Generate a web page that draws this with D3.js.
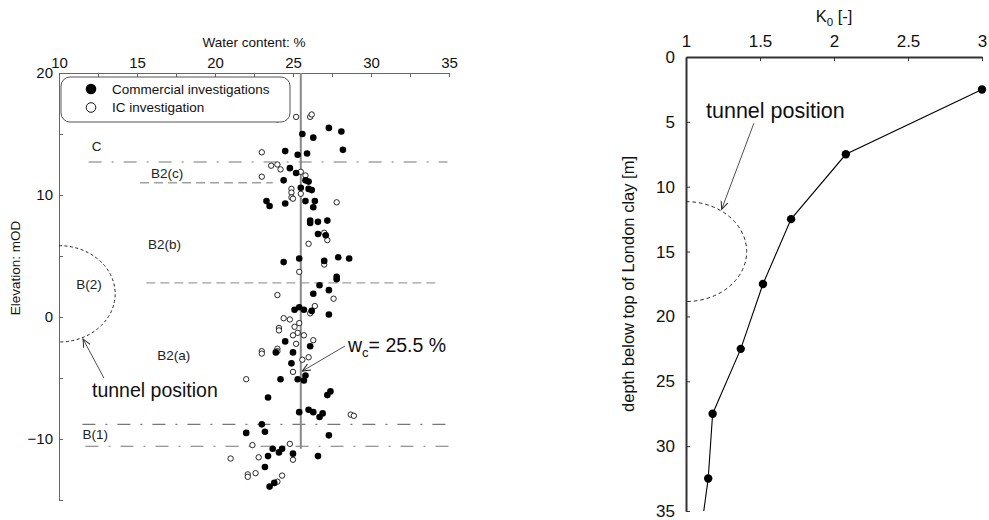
<!DOCTYPE html>
<html>
<head>
<meta charset="utf-8">
<script src="https://cdn.jsdelivr.net/npm/d3@7"></script>
<style>
  body { margin: 0; background: #fff; }
  svg { font-family: "Liberation Sans", Arial, sans-serif; }
</style>
</head>
<body>
<div id="chart"></div>
<script>
// ---- data ----
// [water content %, elevation mOD]
const commercialPts = [
    [27.3, 15.5], [28.1, 15.2], [25.6, 15.0], [26.3, 14.7], [24.5, 13.6], [25.3, 13.3],
    [25.9, 13.4], [28.2, 13.7], [24.8, 12.2], [25.2, 11.8], [24.4, 11.2], [25.8, 11.2],
    [26.0, 11.1], [25.5, 10.6], [26.0, 10.5], [26.2, 10.4], [23.3, 9.5], [23.5, 9.1],
    [24.5, 9.3], [25.8, 9.5], [26.4, 9.5], [26.3, 9.0], [26.1, 7.9], [26.1, 7.7],
    [26.6, 7.8], [27.2, 7.9], [26.6, 6.8], [27.1, 6.7], [24.4, 4.5], [25.4, 4.8],
    [27.0, 4.6], [27.9, 4.9], [28.6, 4.8], [27.8, 3.3], [27.8, 3.1], [26.3, 1.9],
    [26.7, 2.6], [27.3, 2.2], [25.1, 0.6], [25.4, 0.8], [25.7, 0.6], [26.2, 0.5],
    [27.3, 0.2], [24.5, -2.0], [26.1, -2.4], [23.9, -2.9], [25.0, -2.9], [24.9, -3.8],
    [24.2, -5.1], [25.3, -5.1], [25.8, -4.8], [25.7, -5.2], [23.4, -6.6], [27.2, -6.4],
    [27.4, -6.1], [25.4, -7.8], [26.0, -7.6], [26.3, -7.8], [26.7, -8.2], [26.9, -7.9],
    [23.0, -8.8], [22.0, -9.5], [23.2, -9.4], [27.3, -9.7], [23.7, -10.8], [24.3, -10.8],
    [24.1, -11.1], [25.0, -11.2], [26.6, -11.4], [23.4, -11.4], [23.2, -12.3], [23.8, -13.6],
    [23.5, -13.9]
];
const icPts = [
    [24.0, 16.2], [25.2, 16.4], [26.1, 16.4], [26.2, 16.6], [23.0, 13.5], [23.6, 12.4],
    [24.0, 12.5], [24.2, 12.1], [25.5, 11.9], [25.8, 11.6], [23.0, 11.5], [24.9, 10.5],
    [24.9, 10.2], [25.5, 10.1], [24.9, 9.8], [25.0, 9.7], [27.8, 9.4], [27.0, 6.9],
    [27.2, 6.3], [26.0, 6.0], [27.0, 4.3], [25.4, 3.7], [24.0, 1.8], [27.6, 1.5],
    [26.4, 0.9], [26.1, 0.3], [24.4, -0.1], [24.8, -0.2], [25.4, -0.5], [25.1, -0.8],
    [25.3, -1.3], [24.1, -0.9], [24.1, -1.1], [25.0, -1.5], [25.7, -1.5], [26.3, -1.9],
    [25.2, -2.2], [24.0, -2.6], [24.0, -2.8], [23.0, -2.8], [23.0, -3.0], [26.0, -3.3],
    [25.6, -3.5], [25.0, -4.5], [22.0, -5.1], [28.7, -8.0], [28.9, -8.1], [22.4, -10.5],
    [24.8, -10.4], [21.0, -11.6], [22.8, -11.5], [25.0, -11.7], [22.1, -12.9], [22.1, -13.1],
    [22.6, -12.8], [24.3, -13.0], [24.0, -13.5]
];
const meanWc = 25.5;
// layer boundaries: elevation, water content from/to
const boundaryElev = [12.7, 11.0, 2.8, -8.8, -10.6];
const boundaryFrom = [11.9, 15.2, 15.6, 11.5, 11.7];
const boundaryTo = [34.9, 23.7, 34.2, 34.9, 35.0];
const boundaryKind = ["dashdot", "dash", "dash", "dashdot", "dashdot"];
const layerNames = ["C", "B2(c)", "B2(b)", "B(2)", "B2(a)", "B(1)"];
const layerLabelW = [12.1, 15.9, 15.7, 11.1, 16.3, 11.5];
const layerLabelE = [13.6, 11.4, 5.6, 2.3, -3.5, -10.0];
// tunnel outline (left): centre elevation, half height (m), half width (% units)
const tunnelLeft = { elev: 1.9, ry: 3.95, rx: 3.6 };

// K0 profile
const k0Depth = [2.5, 7.5, 12.5, 17.5, 22.5, 27.5, 32.5];
const k0Value = [3.0, 2.08, 1.71, 1.52, 1.37, 1.18, 1.15];
const k0LineEnd = [1.12, 35];
const tunnelRight = { depth: 15.0, ry: 3.85, rx: 0.41 };

const wTicks = d3.range(10, 35.01, 2.5);
const eTicks = d3.range(-15, 20.01, 5);
const kTicks = [1, 1.5, 2, 2.5, 3];
const dTicks = d3.range(0, 35.01, 5);

// ---- drawing ----
const width = 989;
const height = 520;

const svg = d3.select("#chart").append("svg")
    .attr("width", width)
    .attr("height", height);

const defs = svg.append("defs");
defs.append("marker")
    .attr("id", "arrow")
    .attr("viewBox", "0 0 10 10")
    .attr("refX", 9)
    .attr("refY", 5)
    .attr("markerWidth", 9)
    .attr("markerHeight", 9)
    .attr("markerUnits", "userSpaceOnUse")
    .attr("orient", "auto")
    .append("path")
    .attr("d", "M0,1 L9,5 L0,9")
    .attr("fill", "none")
    .attr("stroke", "#222")
    .attr("stroke-width", 1.1);

// ===== left panel =====
const x = d3.scaleLinear().domain([10, 35]).range([59, 449]);
const y = d3.scaleLinear().domain([-15, 20]).range([500, 73]);

const left = svg.append("g");

const xAxisG = left.append("g")
    .attr("transform", `translate(0,${y(20)})`)
    .call(d3.axisTop(x).tickValues(wTicks).tickSizeInner(-4).tickSizeOuter(0).tickPadding(5)
        .tickFormat((d) => (d % 5 === 0 ? d : "")));
const yAxisG = left.append("g")
    .attr("transform", `translate(${x(10)},0)`)
    .call(d3.axisLeft(y).tickValues(eTicks).tickSizeInner(-4).tickSizeOuter(0).tickPadding(6)
        .tickFormat((d) => (d % 10 === 0 ? d3.format("d")(d) : "")));

[xAxisG, yAxisG].forEach((g) => {
    g.selectAll("path, line").attr("stroke", "#666");
    g.selectAll("text").attr("font-size", 15).attr("fill", "#111")
        .attr("font-family", "Liberation Sans, Arial, sans-serif");
});

left.append("text")
    .attr("x", (x(10) + x(35)) / 2)
    .attr("y", 47)
    .attr("text-anchor", "middle")
    .attr("font-size", 13.5)
    .attr("fill", "#111")
    .text("Water content: %");

left.append("text")
    .attr("transform", "rotate(-90)")
    .attr("x", -268)
    .attr("y", 20)
    .attr("text-anchor", "middle")
    .attr("font-size", 13.5)
    .attr("fill", "#111")
    .text("Elevation: mOD");

// layer boundaries
left.append("g").selectAll("line")
    .data(boundaryElev)
    .join("line")
    .attr("x1", (d, i) => x(boundaryFrom[i]))
    .attr("x2", (d, i) => x(boundaryTo[i]))
    .attr("y1", (d) => y(d))
    .attr("y2", (d) => y(d))
    .attr("stroke", (d, i) => (boundaryKind[i] === "dash" ? "#a0a0a0" : "#777"))
    .attr("stroke-width", (d, i) => (boundaryKind[i] === "dash" ? 1.4 : 1.1))
    .attr("stroke-dasharray", (d, i) => (boundaryKind[i] === "dash" ? "9,5" : "13,10,2,10"));

left.append("g").selectAll("text")
    .data(layerNames)
    .join("text")
    .attr("x", (d, i) => x(layerLabelW[i]))
    .attr("y", (d, i) => y(layerLabelE[i]))
    .attr("font-size", 13.5)
    .attr("fill", "#222")
    .text((d) => d);

// tunnel outline
const tTop = y(tunnelLeft.elev + tunnelLeft.ry);
const tBot = y(tunnelLeft.elev - tunnelLeft.ry);
const tRx = x(10 + tunnelLeft.rx) - x(10);
left.append("path")
    .attr("d", `M${x(10)},${tTop} A${tRx},${(tBot - tTop) / 2} 0 0 1 ${x(10)},${tBot}`)
    .attr("fill", "none")
    .attr("stroke", "#222")
    .attr("stroke-width", 1)
    .attr("stroke-dasharray", "3,2.5");

// mean water content line
left.append("line")
    .attr("x1", x(meanWc))
    .attr("x2", x(meanWc))
    .attr("y1", y(20))
    .attr("y2", y(-10.8))
    .attr("stroke", "#888")
    .attr("stroke-width", 2);

// points
left.append("g").selectAll("circle")
    .data(icPts)
    .join("circle")
    .attr("cx", (d) => x(d[0]))
    .attr("cy", (d) => y(d[1]))
    .attr("r", 2.7)
    .attr("fill", "#fff")
    .attr("stroke", "#111")
    .attr("stroke-width", 0.9);

left.append("g").selectAll("circle")
    .data(commercialPts)
    .join("circle")
    .attr("cx", (d) => x(d[0]))
    .attr("cy", (d) => y(d[1]))
    .attr("r", 3.3)
    .attr("fill", "#000");

// legend
const legend = left.append("g");
legend.append("rect")
    .attr("x", 61).attr("y", 77)
    .attr("width", 229).attr("height", 45)
    .attr("rx", 9)
    .attr("fill", "#fff")
    .attr("stroke", "#555")
    .attr("stroke-width", 1);
legend.append("circle").attr("cx", 91).attr("cy", 89).attr("r", 5.3).attr("fill", "#000");
legend.append("circle").attr("cx", 91).attr("cy", 107.5).attr("r", 4.8)
    .attr("fill", "#fff").attr("stroke", "#111").attr("stroke-width", 1);
legend.append("text").attr("x", 112).attr("y", 94).attr("font-size", 13.5).attr("fill", "#111")
    .text("Commercial investigations");
legend.append("text").attr("x", 112).attr("y", 112).attr("font-size", 13.5).attr("fill", "#111")
    .text("IC investigation");

// annotations
left.append("text")
    .attr("x", 92)
    .attr("y", 397)
    .attr("font-size", 19.5)
    .attr("fill", "#111")
    .text("tunnel position");
left.append("line")
    .attr("x1", x(12.88)).attr("y1", y(-5.0))
    .attr("x2", x(11.54)).attr("y2", y(-1.8))
    .attr("stroke", "#222").attr("stroke-width", 0.8)
    .attr("marker-end", "url(#arrow)");

const wcText = left.append("text")
    .attr("x", 348)
    .attr("y", 352)
    .attr("font-size", 19.5)
    .attr("fill", "#111");
wcText.append("tspan").text("w");
wcText.append("tspan").attr("font-size", 13).attr("dy", 5).text("c");
wcText.append("tspan").attr("dy", -5).text("= 25.5 %");
left.append("line")
    .attr("x1", x(28.33)).attr("y1", y(-2.38))
    .attr("x2", x(25.6)).attr("y2", y(-4.43))
    .attr("stroke", "#222").attr("stroke-width", 0.8)
    .attr("marker-end", "url(#arrow)");

// ===== right panel =====
const xk = d3.scaleLinear().domain([1, 3]).range([686, 982]);
const yd = d3.scaleLinear().domain([0, 35]).range([57, 511]);

const right = svg.append("g");

const kAxisG = right.append("g")
    .attr("transform", `translate(0,${yd(0)})`)
    .call(d3.axisTop(xk).tickValues(kTicks).tickSizeInner(-4).tickSizeOuter(0).tickPadding(10)
        .tickFormat(d3.format("~g")));
const dAxisG = right.append("g")
    .attr("transform", `translate(${xk(1)},0)`)
    .call(d3.axisLeft(yd).tickValues(dTicks).tickSizeInner(-4).tickSizeOuter(0).tickPadding(11));

[kAxisG, dAxisG].forEach((g) => {
    g.select(".domain").attr("stroke", "#333").attr("stroke-width", 2);
    g.selectAll(".tick line").attr("stroke", "#333");
    g.selectAll("text").attr("font-size", 17).attr("fill", "#111")
        .attr("font-family", "Liberation Sans, Arial, sans-serif");
});

const kTitle = right.append("text")
    .attr("x", (xk(1) + xk(3)) / 2)
    .attr("y", 22)
    .attr("text-anchor", "middle")
    .attr("font-size", 16.5)
    .attr("fill", "#111");
kTitle.append("tspan").text("K");
kTitle.append("tspan").attr("font-size", 11.5).attr("dy", 4).text("0");
kTitle.append("tspan").attr("dy", -4).text(" [-]");

right.append("text")
    .attr("transform", "rotate(-90)")
    .attr("x", -(yd(0) + yd(35)) / 2)
    .attr("y", 634)
    .attr("text-anchor", "middle")
    .attr("font-size", 16.5)
    .attr("fill", "#111")
    .text("depth below top of London clay [m]");

// tunnel outline
const rTop = yd(tunnelRight.depth - tunnelRight.ry);
const rBot = yd(tunnelRight.depth + tunnelRight.ry);
const rRx = xk(1 + tunnelRight.rx) - xk(1);
right.append("path")
    .attr("d", `M${xk(1)},${rTop} A${rRx},${(rBot - rTop) / 2} 0 0 1 ${xk(1)},${rBot}`)
    .attr("fill", "none")
    .attr("stroke", "#222")
    .attr("stroke-width", 1)
    .attr("stroke-dasharray", "3.5,3");

right.append("text")
    .attr("x", 706)
    .attr("y", 118)
    .attr("font-size", 21.5)
    .attr("fill", "#111")
    .text("tunnel position");
right.append("line")
    .attr("x1", xk(1.459)).attr("y1", yd(5.1))
    .attr("x2", xk(1.241)).attr("y2", yd(11.74))
    .attr("stroke", "#222").attr("stroke-width", 0.8)
    .attr("marker-end", "url(#arrow)");

const k0Pts = k0Depth.map((d, i) => [k0Value[i], d]);
const line = d3.line().x((d) => xk(d[0])).y((d) => yd(d[1]));
right.append("path")
    .attr("d", line(k0Pts.concat([k0LineEnd])))
    .attr("fill", "none")
    .attr("stroke", "#000")
    .attr("stroke-width", 1.1);
right.append("g").selectAll("circle")
    .data(k0Pts)
    .join("circle")
    .attr("cx", (d) => xk(d[0]))
    .attr("cy", (d) => yd(d[1]))
    .attr("r", 4.2)
    .attr("fill", "#000");
</script>
</body>
</html>
